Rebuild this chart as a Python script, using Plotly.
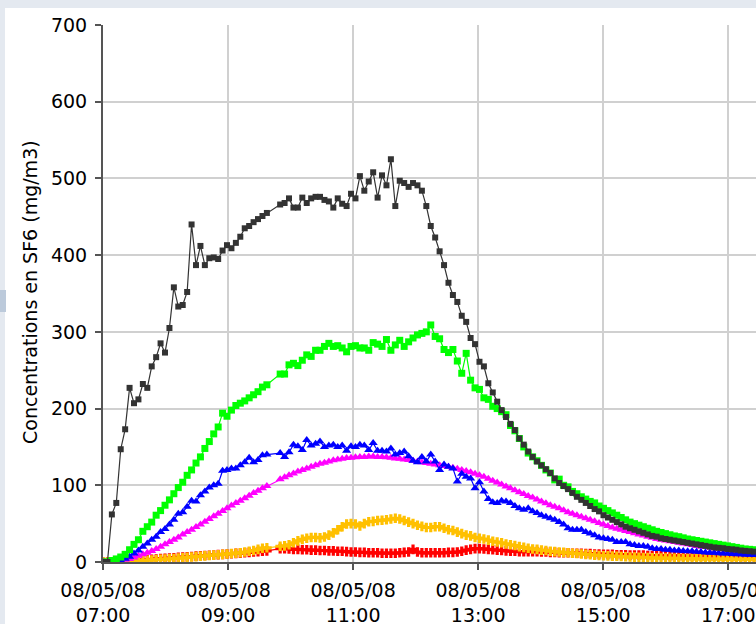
import datetime as dt
import plotly.graph_objects as go

# ---- data ----
start = dt.datetime(2008, 5, 8, 7, 0)
step_seconds = 255
n_points = 148
times = [start + dt.timedelta(seconds=step_seconds * i) for i in range(n_points)]

black = [0, 0, 62, 77, 147, 173, 227, 207, 212, 232, 227, 255, 267, 285, 273, 305, 358, 333, 335, 352,
         440, 387, 412, 387, 396, 397, 395, 406, 413, 409, 416, 424, 435, 438, 443, 447, 451, 455, None, None,
         466, 468, 474, 462, 462, 475, 468, 474, 476, 476, 472, 470, 462, 474, 467, 464, 480, 474, 503, 484,
         496, 508, 475, 504, 491, 525, 464, 497, 494, 489, 494, 491, 484, 464, 438, 423, 405, 387, 364, 348,
         339, 321, 313, 292, 284, 261, 255, 233, 221, 209, 198, 189, 180, 172, 161, 153, 144, 137, 131, 126,
         121, 116, 109, 103, 99, 95, 90, 85, 81, 77, 73, 69, 66, 61, 58, 55, 52, 49, 46, 44,
         42, 40, 38, 36, 34, 33, 31, 30, 29, 28, 27, 26, 25, 24, 23, 22, 21, 20, 19, 18.5,
         18, 17, 16.5, 16, 15, 14.5, 14, 13.5]

green = [0, 0, 2, 4, 6.5, 10, 16, 23, 29, 40, 46, 52, 61, 67, 74, 81, 89, 97, 104, 113,
         120, 129, 137, 148, 157, 167, 176, 194, 190, 198, 204, 207, 210, 214, 218, 222, 228, 231, None, None,
         245, 245, 257, 259, 256, 263, 270, 268, 276, 276, 281, 285, 281, 282, 279, 274, 281, 282, 279, 279,
         276, 286, 284, 281, 290, 276, 283, 289, 281, 287, 292, 296, 298, 300, 309, 294, 291, 277, 273, 277,
         262, 246, 272, 237, 227, 225, 214, 212, 203, 200, 196, 192, 178, 171, 161, 150, 142, 137, 132, 126,
         120, 116, 107, 108, 100, 98, 92, 89, 85, 82, 79, 77, 73, 70, 67, 64, 61, 58, 55, 52,
         50, 48, 46, 44, 42, 40, 38.5, 37, 35.5, 34, 33, 31.5, 30, 29, 28, 27, 26, 25, 24, 23,
         22, 21, 20, 19, 18, 17, 16.5, 16]

blue = [0, 0, 0.5, 1, 2, 4.3, 7, 11, 15, 20, 24, 29, 33, 39, 43, 49, 55, 63, 65, 72,
        80, 79, 87, 92, 97, 100, 102, 119, 120, 122, 122, 126, 130, 136, 130, 133, 139, 140, None, None,
        142, 137, 143, 153, 151, 146, 159, 152, 154, 157, 150, 152, 153, 150, 152, 145, 151, 150, 153, 152,
        146, 155, 145, 145, 144, 148, 140, 142, 144, 138, 132, 130, 137, 131, 140, 131, 120, 127, 124, 122,
        105, 115, 111, 109, 96, 104, 92, 82, 78, 77, 80, 79, 77, 73, 70, 68, 70, 66, 64, 61,
        59, 57, 55, 52, 49, 44, 42, 42, 42, 39, 37, 35, 32, 31, 30, 29, 26, 26, 26, 23,
        22, 21, 21, 20, 18, 17, 17, 16, 16, 15, 15, 14.5, 14, 14, 13.5, 13, 12.5, 12, 12, 11.5,
        11, 11, 10.5, 10, 10, 9.5, 9.5, 9]

magenta = [0, 0, 0.5, 1, 2, 3, 4, 6, 8, 10, 12, 14.5, 17, 20, 23, 26, 29, 32, 36, 39,
           42, 45.5, 49, 52.5, 56, 59.5, 63, 66.5, 70, 73.5, 77, 80, 83, 86.5, 90, 93, 96, 99, None, None,
           108, 110.5, 113, 115.5, 118, 120, 122, 124, 126, 128, 129.5, 131, 132.5, 133.5, 134.5, 135.5, 136, 136.5, 137, 137,
           137.5, 137.5, 137, 137, 136.5, 136, 135, 134.5, 133.5, 133, 132, 131, 130, 129, 128, 127, 126, 125, 124, 123,
           121.5, 120, 118.5, 117, 115, 113, 111, 108.5, 106, 103.5, 101, 98.5, 96, 93.5, 91, 88.5, 86, 84, 81.5, 79,
           76.5, 74, 72, 70, 67.5, 65, 63, 61, 59, 57, 55, 53, 51, 49, 47, 45, 43.5, 42, 40.5, 39,
           37.5, 36, 34.5, 33, 31.5, 30, 29, 28, 27, 26, 25, 24, 23, 22, 21, 20, 19.5, 19, 18, 17.5,
           17, 16, 15.5, 15, 14.5, 14, 13.5, 13]

red = [0, 0, 0, 0.5, 1, 1.3, 1.7, 2, 2.4, 2.8, 3.2, 3.6, 4, 4.4, 4.8, 5.2, 5.6, 6, 6.4, 6.8,
       7.2, 7.6, 8, 8.4, 8.8, 9.2, 9.6, 10, 10.4, 10.8, 11.2, 11.6, 12, 12.5, 13, 13.5, 14, 14.5, None, None,
       17.5, 17.5, 17, 16.5, 16.5, 16, 16, 15.5, 15.5, 15, 15, 14.5, 14.5, 14, 14, 13.5, 13, 13, 12.5, 12.5,
       12, 12, 12, 11.5, 11.5, 11.5, 11.5, 12, 12.5, 13, 16.5, 13, 12, 12, 12, 12, 12, 12, 12.5, 12.5,
       13, 14, 15.5, 16.5, 17.5, 17.5, 17, 16.5, 16, 15.5, 15, 14.5, 14, 14, 13.5, 13.5, 13.5, 13.5, 13.5, 13,
       13, 12.5, 12.5, 12, 12, 12, 11.5, 11.5, 11.5, 11, 11, 10.5, 10.5, 10, 10, 10, 9.5, 9.5, 9.5, 9,
       9, 9, 9, 8.5, 8.5, 8.5, 8.5, 8, 8, 8, 8, 8, 7.8, 7.8, 7.8, 7.6, 7.6, 7.5, 7.5, 7.4,
       7.3, 7.2, 7.2, 7.1, 7, 7, 7, 7]

yellow = [0, 0, 0, 0.3, 0.5, 0.8, 1, 1.3, 1.6, 2, 2.3, 2.7, 3, 3.4, 3.8, 4.2, 4.6, 5, 5.5, 6,
          6.5, 7, 7.5, 8, 8.5, 9, 9.5, 10, 10.5, 11, 11.5, 12, 13, 14, 15, 16.5, 18, 18.5, None, None,
          20.5, 21, 22.5, 25, 27.5, 29.5, 31, 32, 32, 31.5, 32.5, 35, 38, 42, 46, 49.5, 50, 49.5, 47, 50,
          52.5, 53, 54, 54.5, 55, 56, 57, 56, 54, 52, 50, 48, 46.5, 45, 45, 46, 46, 44, 42, 41,
          39, 37, 35, 34, 32, 31, 30, 28.5, 27, 26, 25, 23.5, 22.5, 21.5, 20, 19, 18, 17, 16.5, 15.5,
          15, 14, 13.5, 13, 12.5, 12, 11.5, 11, 10.5, 10, 9.5, 9, 8.5, 8.2, 8, 7.7, 7.4, 7.1, 6.8, 6.5,
          6.3, 6.1, 5.9, 5.7, 5.5, 5.3, 5.1, 5, 4.8, 4.7, 4.6, 4.5, 4.4, 4.3, 4.2, 4.1, 4, 3.9, 3.9, 3.8,
          3.8, 3.7, 3.7, 3.6, 3.6, 3.5, 3.5, 3.5]

tick_hours = [7, 9, 11, 13, 15, 17]
tick_text = ["08/05/08<br>%02d:00" % h for h in tick_hours]
y_title = "Concentrations en SF6 (mg/m3)"

# ---- figure ----
series = [
    (red, "#FF0000", "cross", 8),
    (yellow, "#FFC000", "cross", 8),
    (magenta, "#FF00FF", "triangle-up", 8),
    (blue, "#0000FF", "triangle-up", 8),
    (green, "#00FF00", "square", 7),
    (black, "#333333", "square", 6),
]

fig = go.Figure()
for vals, col, sym, sz in series:
    fig.add_trace(go.Scatter(
        x=times, y=vals, mode="lines+markers", connectgaps=True,
        line=dict(color=col, width=1.2),
        marker=dict(color=col, symbol=sym, size=sz, line=dict(width=0)),
        showlegend=False, hoverinfo="skip"))

x_end = start + dt.timedelta(minutes=626.6)
W, H = 756, 624
L, R, T, B = 103, 0, 25, 62
pw, ph = W - L - R, H - T - B

def px_x(p):
    return (p - L) / pw

def px_y(p):
    return (H - B - p) / ph

fig.update_layout(
    width=W, height=H,
    margin=dict(l=L, r=R, t=T, b=B, autoexpand=False),
    paper_bgcolor="white", plot_bgcolor="white",
    font=dict(family="DejaVu Sans", color="#000000"),
    xaxis=dict(
        type="date", range=[start, x_end], automargin=False,
        tickvals=[start + dt.timedelta(hours=h - 7) for h in tick_hours],
        ticktext=tick_text,
        tickfont=dict(size=19, family="DejaVu Sans"),
        ticklabelstandoff=4, ticklabeloverflow="allow",
        showgrid=True, gridcolor="#D0D0D0", gridwidth=1.5,
        showline=True, linecolor="#555555", linewidth=2,
        ticks="outside", ticklen=6, tickcolor="#555555", tickwidth=1.5,
        zeroline=False, fixedrange=True,
    ),
    yaxis=dict(
        range=[0, 700], dtick=100, tick0=0, automargin=False,
        tickfont=dict(size=19, family="DejaVu Sans"),
        ticklabelstandoff=4, ticklabeloverflow="allow",
        showgrid=True, gridcolor="#D0D0D0", gridwidth=1.5,
        showline=True, linecolor="#555555", linewidth=2,
        ticks="outside", ticklen=6, tickcolor="#555555", tickwidth=1.5,
        zeroline=False, fixedrange=True,
    ),
    shapes=[
        dict(type="rect", xref="paper", yref="paper", layer="below",
             x0=px_x(0), x1=px_x(5), y0=px_y(H), y1=px_y(0),
             fillcolor="#E4E9F0", line=dict(width=0)),
        dict(type="rect", xref="paper", yref="paper", layer="below",
             x0=px_x(0), x1=px_x(W), y0=px_y(8), y1=px_y(0),
             fillcolor="#E4E9F0", line=dict(width=0)),
        dict(type="rect", xref="paper", yref="paper", layer="below",
             x0=px_x(0), x1=px_x(6), y0=px_y(312), y1=px_y(290),
             fillcolor="#BCCADB", line=dict(width=0)),
    ],
    annotations=[dict(
        text=y_title, textangle=-90, showarrow=False,
        xref="paper", yref="paper", x=px_x(30), y=px_y(292),
        xanchor="center", yanchor="middle",
        font=dict(size=19, family="DejaVu Sans", color="#000000"))],
)

fig.write_html("out.html", config={"displayModeBar": False},
               post_script="document.body.style.margin='0';")
